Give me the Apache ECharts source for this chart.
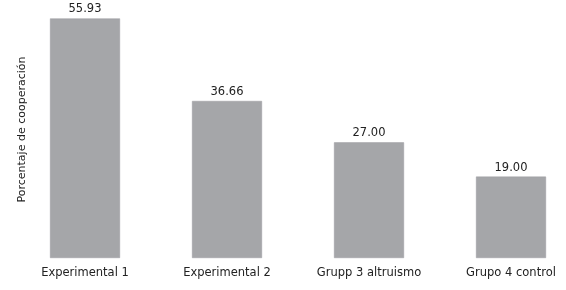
<!DOCTYPE html>
<html><head><meta charset="utf-8">
<script src="https://cdn.jsdelivr.net/npm/echarts@6/dist/echarts.min.js"></script>
<style>html,body{margin:0;padding:0;background:#fff}#c{width:566px;height:290px}</style>
</head><body><div id="c"></div>
<script>
const categories = ["Experimental 1", "Experimental 2", "Grupp 3 altruismo", "Grupo 4 control"];
const values = [55.93, 36.66, 27.00, 19.00];
const yName = "Porcentaje de cooperación";

const chart = echarts.init(document.getElementById('c'));
chart.setOption({
  animation: false,
  grid: { left: 14, width: 568, top: 1, bottom: 32, outerBoundsMode: 'none', containLabel: false },
  xAxis: {
    type: 'category', data: categories,
    axisLine: { show: false }, axisTick: { show: false },
    axisLabel: { color: '#222', fontFamily: 'DejaVu Sans', fontSize: 11.5, margin: 9 }
  },
  yAxis: {
    type: 'value', min: 0, max: 60,
    name: yName, nameLocation: 'middle', nameGap: -14, nameRotate: 90,
    nameTextStyle: { color: '#222', fontFamily: 'DejaVu Sans', fontSize: 11 },
    axisLine: { show: false }, axisTick: { show: false },
    axisLabel: { show: false }, splitLine: { show: false }
  },
  series: [{
    type: 'bar', data: values, barWidth: 70,
    itemStyle: { color: '#a5a6a9', borderColor: '#9c9da1', borderWidth: 0.5 },
    label: { show: true, position: 'top', distance: 3, color: '#222',
      fontFamily: 'DejaVu Sans', fontSize: 11.5,
      formatter: p => p.value.toFixed(2) }
  }]
});
</script></body></html>
